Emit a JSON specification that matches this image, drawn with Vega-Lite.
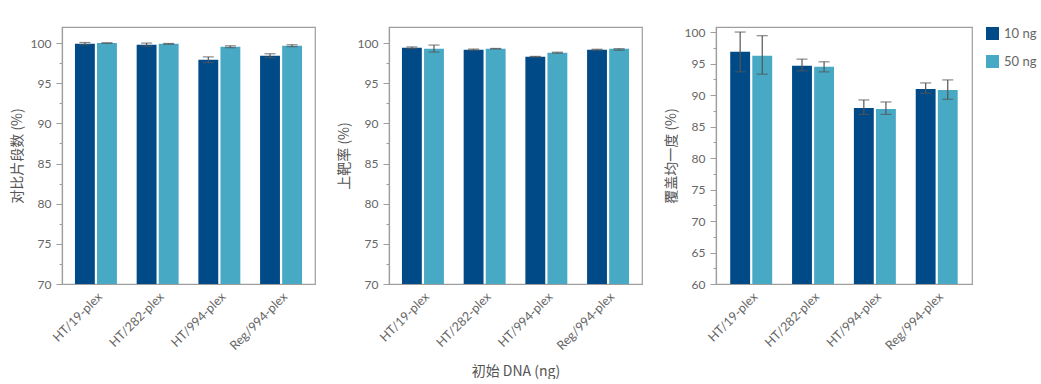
{
  "$schema": "https://vega.github.io/schema/vega-lite/v6.json",
  "padding": {"left": 9, "top": 25, "right": 0, "bottom": 0},
  "background": "white",
  "data": {"values": [
    {"panel": "a", "cat": "HT/19-plex", "dose": "10 ng", "value": 99.92, "lo": 99.77, "hi": 100.07},
    {"panel": "a", "cat": "HT/19-plex", "dose": "50 ng", "value": 100.0, "lo": 99.97, "hi": 100.03},
    {"panel": "a", "cat": "HT/282-plex", "dose": "10 ng", "value": 99.8, "lo": 99.6, "hi": 100.0},
    {"panel": "a", "cat": "HT/282-plex", "dose": "50 ng", "value": 99.9, "lo": 99.85, "hi": 99.95},
    {"panel": "a", "cat": "HT/994-plex", "dose": "10 ng", "value": 97.93, "lo": 97.58, "hi": 98.28},
    {"panel": "a", "cat": "HT/994-plex", "dose": "50 ng", "value": 99.54, "lo": 99.42, "hi": 99.66},
    {"panel": "a", "cat": "Reg/994-plex", "dose": "10 ng", "value": 98.42, "lo": 98.17, "hi": 98.67},
    {"panel": "a", "cat": "Reg/994-plex", "dose": "50 ng", "value": 99.67, "lo": 99.55, "hi": 99.79},
    {"panel": "b", "cat": "HT/19-plex", "dose": "10 ng", "value": 99.42, "lo": 99.32, "hi": 99.52},
    {"panel": "b", "cat": "HT/19-plex", "dose": "50 ng", "value": 99.3, "lo": 98.88, "hi": 99.75},
    {"panel": "b", "cat": "HT/282-plex", "dose": "10 ng", "value": 99.17, "lo": 99.1, "hi": 99.25},
    {"panel": "b", "cat": "HT/282-plex", "dose": "50 ng", "value": 99.3, "lo": 99.27, "hi": 99.33},
    {"panel": "b", "cat": "HT/994-plex", "dose": "10 ng", "value": 98.3, "lo": 98.26, "hi": 98.34},
    {"panel": "b", "cat": "HT/994-plex", "dose": "50 ng", "value": 98.8, "lo": 98.74, "hi": 98.86},
    {"panel": "b", "cat": "Reg/994-plex", "dose": "10 ng", "value": 99.17, "lo": 99.11, "hi": 99.23},
    {"panel": "b", "cat": "Reg/994-plex", "dose": "50 ng", "value": 99.3, "lo": 99.1, "hi": 99.3},
    {"panel": "c", "cat": "HT/19-plex", "dose": "10 ng", "value": 96.87, "lo": 93.68, "hi": 100.0},
    {"panel": "c", "cat": "HT/19-plex", "dose": "50 ng", "value": 96.23, "lo": 93.31, "hi": 99.42},
    {"panel": "c", "cat": "HT/282-plex", "dose": "10 ng", "value": 94.63, "lo": 93.84, "hi": 95.7},
    {"panel": "c", "cat": "HT/282-plex", "dose": "50 ng", "value": 94.48, "lo": 93.68, "hi": 95.27},
    {"panel": "c", "cat": "HT/994-plex", "dose": "10 ng", "value": 87.94, "lo": 86.93, "hi": 89.22},
    {"panel": "c", "cat": "HT/994-plex", "dose": "50 ng", "value": 87.78, "lo": 86.93, "hi": 88.9},
    {"panel": "c", "cat": "Reg/994-plex", "dose": "10 ng", "value": 90.97, "lo": 90.28, "hi": 91.92},
    {"panel": "c", "cat": "Reg/994-plex", "dose": "50 ng", "value": 90.81, "lo": 89.32, "hi": 92.4}
  ]},
  "bounds": "flush",
  "spacing": 74,
  "hconcat": [
    {
      "width": 253, "height": 257,
      "transform": [{"filter": "datum.panel == 'a'"}],
      "encoding": {
        "x": {"field": "cat", "type": "nominal", "sort": null, "title": null,
              "scale": {"paddingInner": 0.32, "paddingOuter": 0.21}},
        "xOffset": {"field": "dose", "type": "nominal", "scale": {"paddingInner": 0.1}}
      },
      "layer": [
        {"mark": {"type": "bar", "clip": true},
         "encoding": {
           "y": {"field": "value", "type": "quantitative", "title": "对比片段数 (%)",
                 "scale": {"domain": [70, 102], "nice": false, "zero": false},
                 "axis": {"values": [70, 72.5, 75, 77.5, 80, 82.5, 85, 87.5, 90, 92.5, 95, 97.5, 100],
                          "tickCount": 40, "labelOverlap": false,
                          "labelExpr": "datum.value % 5 == 0 ? datum.label : ''",
                          "tickSize": {"condition": {"test": "datum.value % 5 == 0", "value": 6}, "value": 3}}},
           "color": {"field": "dose", "type": "nominal", "title": null}
         }},
        {"mark": {"type": "rule", "color": "#555555", "strokeWidth": 1.2},
         "encoding": {"y": {"field": "lo", "type": "quantitative"}, "y2": {"field": "hi"}}},
        {"mark": {"type": "tick", "color": "#555555", "size": 11, "thickness": 1.2},
         "encoding": {"y": {"field": "lo", "type": "quantitative"}}},
        {"mark": {"type": "tick", "color": "#555555", "size": 11, "thickness": 1.2},
         "encoding": {"y": {"field": "hi", "type": "quantitative"}}}
      ]
    },
    {
      "width": 253, "height": 257,
      "transform": [{"filter": "datum.panel == 'b'"}],
      "encoding": {
        "x": {"field": "cat", "type": "nominal", "sort": null, "title": "初始 DNA (ng)",
              "scale": {"paddingInner": 0.32, "paddingOuter": 0.21}},
        "xOffset": {"field": "dose", "type": "nominal", "scale": {"paddingInner": 0.1}}
      },
      "layer": [
        {"mark": {"type": "bar", "clip": true},
         "encoding": {
           "y": {"field": "value", "type": "quantitative", "title": "上靶率 (%)",
                 "scale": {"domain": [70, 102], "nice": false, "zero": false},
                 "axis": {"values": [70, 72.5, 75, 77.5, 80, 82.5, 85, 87.5, 90, 92.5, 95, 97.5, 100],
                          "tickCount": 40, "labelOverlap": false,
                          "labelExpr": "datum.value % 5 == 0 ? datum.label : ''",
                          "tickSize": {"condition": {"test": "datum.value % 5 == 0", "value": 6}, "value": 3}}},
           "color": {"field": "dose", "type": "nominal", "title": null}
         }},
        {"mark": {"type": "rule", "color": "#555555", "strokeWidth": 1.2},
         "encoding": {"y": {"field": "lo", "type": "quantitative"}, "y2": {"field": "hi"}}},
        {"mark": {"type": "tick", "color": "#555555", "size": 11, "thickness": 1.2},
         "encoding": {"y": {"field": "lo", "type": "quantitative"}}},
        {"mark": {"type": "tick", "color": "#555555", "size": 11, "thickness": 1.2},
         "encoding": {"y": {"field": "hi", "type": "quantitative"}}}
      ]
    },
    {
      "width": 256, "height": 257,
      "transform": [{"filter": "datum.panel == 'c'"}],
      "encoding": {
        "x": {"field": "cat", "type": "nominal", "sort": null, "title": null,
              "scale": {"paddingInner": 0.32, "paddingOuter": 0.23}},
        "xOffset": {"field": "dose", "type": "nominal", "scale": {"paddingInner": 0.1}}
      },
      "layer": [
        {"mark": {"type": "bar", "clip": true},
         "encoding": {
           "y": {"field": "value", "type": "quantitative", "title": "覆盖均一度 (%)",
                 "scale": {"domain": [60, 100.8], "nice": false, "zero": false},
                 "axis": {"values": [60, 62.5, 65, 67.5, 70, 72.5, 75, 77.5, 80, 82.5, 85, 87.5, 90, 92.5, 95, 97.5, 100],
                          "tickCount": 40, "labelOverlap": false,
                          "labelExpr": "datum.value % 5 == 0 ? datum.label : ''",
                          "tickSize": {"condition": {"test": "datum.value % 5 == 0", "value": 6}, "value": 3}}},
           "color": {"field": "dose", "type": "nominal", "title": null}
         }},
        {"mark": {"type": "rule", "color": "#555555", "strokeWidth": 1.2},
         "encoding": {"y": {"field": "lo", "type": "quantitative"}, "y2": {"field": "hi"}}},
        {"mark": {"type": "tick", "color": "#555555", "size": 11, "thickness": 1.2},
         "encoding": {"y": {"field": "lo", "type": "quantitative"}}},
        {"mark": {"type": "tick", "color": "#555555", "size": 11, "thickness": 1.2},
         "encoding": {"y": {"field": "hi", "type": "quantitative"}}}
      ]
    }
  ],
  "resolve": {"scale": {"color": "shared"}},
  "config": {
    "font": "Lato, Noto Sans CJK SC",
    "view": {"stroke": "#9e9e9e", "strokeWidth": 1.2},
    "range": {"category": ["#004b87", "#48a9c5"]},
    "axis": {
      "domainColor": "#9e9e9e", "domainWidth": 1.2, "grid": false,
      "labelColor": "#666666", "labelFontSize": 12, "labelFont": "Lato", "labelOverlap": false,
      "tickColor": "#9e9e9e", "tickWidth": 1,
      "titleColor": "#555555", "titleFontSize": 14, "titleFontWeight": "normal", "titleFont": "Noto Sans CJK SC, Lato"
    },
    "axisY": {"labelPadding": 5, "titlePadding": 6},
    "axisX": {"ticks": false, "labelAngle": -45, "labelPadding": 6, "titlePadding": 12, "labelFontSize": 12.5},
    "legend": {"orient": "right", "offset": 13, "padding": 0, "symbolType": "square", "symbolSize": 169,
               "symbolStrokeWidth": 0, "rowPadding": 14, "labelFontSize": 13, "labelColor": "#666666",
               "labelFont": "Lato", "labelOffset": 5}
  }
}
